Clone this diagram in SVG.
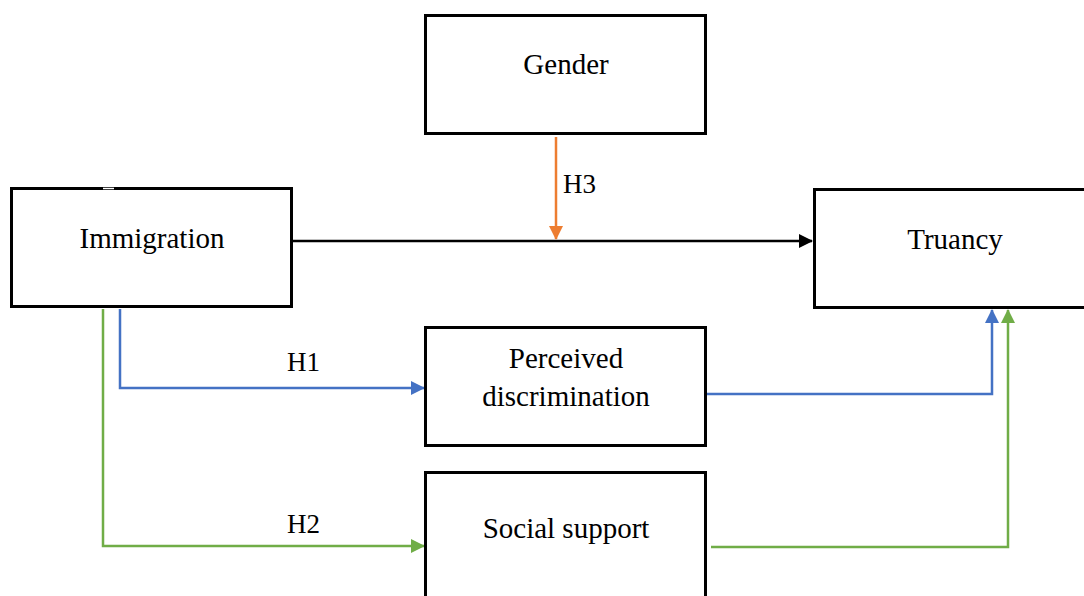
<svg xmlns="http://www.w3.org/2000/svg" width="1084" height="596" viewBox="0 0 1084 596">
<style>
.box{fill:#fff;stroke:#000;stroke-width:3}
.t{font-family:"Liberation Serif","Times New Roman",serif;font-size:29px;fill:#000;text-anchor:middle}
.lbl{font-family:"Liberation Serif","Times New Roman",serif;font-size:27px;fill:#000}
.c{fill:none;stroke-width:2.5}
</style>
<defs>
<marker id="ak" markerWidth="14" markerHeight="14" refX="13" refY="7" orient="auto" markerUnits="userSpaceOnUse"><path d="M0,0 L14,7 L0,14 z" fill="#000"/></marker>
<marker id="ab" markerWidth="14" markerHeight="14" refX="13" refY="7" orient="auto" markerUnits="userSpaceOnUse"><path d="M0,0 L14,7 L0,14 z" fill="#4472C4"/></marker>
<marker id="ag" markerWidth="14" markerHeight="14" refX="13" refY="7" orient="auto" markerUnits="userSpaceOnUse"><path d="M0,0 L14,7 L0,14 z" fill="#70AD47"/></marker>
<marker id="ao" markerWidth="14" markerHeight="14" refX="13" refY="7" orient="auto" markerUnits="userSpaceOnUse"><path d="M0,0 L14,7 L0,14 z" fill="#ED7D31"/></marker>
</defs>
<rect width="1084" height="596" fill="#fff"/>
<g id="connectors">
<path class="c" stroke="#000" d="M292,241 H812" marker-end="url(#ak)"/>
<path class="c" stroke="#ED7D31" d="M556,137 V239" marker-end="url(#ao)"/>
<path class="c" stroke="#4472C4" d="M120,309 V388 H424" marker-end="url(#ab)"/>
<path class="c" stroke="#4472C4" d="M706,394 H992 V310" marker-end="url(#ab)"/>
<path class="c" stroke="#70AD47" d="M103,309 V546 H424" marker-end="url(#ag)"/>
<path class="c" stroke="#70AD47" d="M711,547 H1008 V310" marker-end="url(#ag)"/>
<text class="lbl" x="563" y="193">H3</text>
<text class="lbl" x="287" y="371">H1</text>
<text class="lbl" x="287" y="533">H2</text>
</g>
<g id="gender"><rect class="box" x="425.5" y="15.5" width="280" height="118"/><text class="t" x="566" y="74">Gender</text></g>
<g id="immigration"><rect class="box" x="11.5" y="188.5" width="280" height="118"/><line x1="103" y1="188.5" x2="114" y2="188.5" stroke="#fff" stroke-width="1.5"/><text class="t" x="152" y="248">Immigration</text></g>
<g id="truancy"><rect class="box" x="814.5" y="189.5" width="280" height="118"/><text class="t" x="955" y="249">Truancy</text></g>
<g id="perceived"><rect class="box" x="425.5" y="327.5" width="280" height="118"/><text class="t" x="566" y="368">Perceived</text><text class="t" x="566" y="406">discrimination</text></g>
<g id="social"><rect class="box" x="425.5" y="472.5" width="280" height="140"/><text class="t" x="566" y="538">Social support</text></g>
</svg>
